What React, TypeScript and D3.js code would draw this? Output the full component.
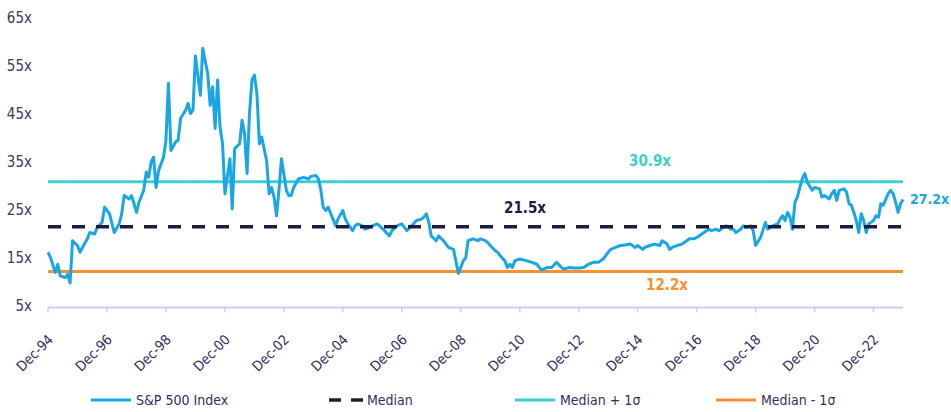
import * as d3 from "d3"
import { useRef, useEffect } from "react"

// S&P 500 forward P/E
const months = [
  "1994-12", "1995-01", "1995-03", "1995-04", "1995-05", "1995-07", "1995-08", "1995-09", "1995-10", "1995-12",
  "1996-01", "1996-02", "1996-04", "1996-05", "1996-07", "1996-08", "1996-10", "1996-11", "1997-01", "1997-03",
  "1997-05", "1997-06", "1997-07", "1997-09", "1997-10", "1997-11", "1997-12", "1998-01", "1998-03", "1998-04",
  "1998-05", "1998-06", "1998-07", "1998-08", "1998-09", "1998-11", "1998-12", "1999-01", "1999-02", "1999-04",
  "1999-05", "1999-06", "1999-08", "1999-09", "1999-10", "1999-11", "1999-12", "2000-02", "2000-03", "2000-05",
  "2000-06", "2000-07", "2000-08", "2000-09", "2000-10", "2000-11", "2000-12", "2001-02", "2001-03", "2001-04",
  "2001-06", "2001-07", "2001-08", "2001-09", "2001-10", "2001-11", "2001-12", "2002-01", "2002-02", "2002-03",
  "2002-05", "2002-06", "2002-07", "2002-08", "2002-09", "2002-10", "2002-11", "2003-01", "2003-02", "2003-03",
  "2003-04", "2003-06", "2003-08", "2003-10", "2003-11", "2004-01", "2004-02", "2004-03", "2004-04", "2004-05",
  "2004-06", "2004-08", "2004-09", "2004-10", "2004-12", "2005-01", "2005-02", "2005-04", "2005-05", "2005-06",
  "2005-08", "2005-09", "2005-11", "2005-12", "2006-02", "2006-03", "2006-05", "2006-07", "2006-08", "2006-10",
  "2006-12", "2007-02", "2007-04", "2007-06", "2007-08", "2007-09", "2007-10", "2007-11", "2007-12", "2008-02",
  "2008-03", "2008-05", "2008-06", "2008-07", "2008-09", "2008-10", "2008-11", "2009-01", "2009-02", "2009-03",
  "2009-05", "2009-07", "2009-08", "2009-10", "2009-11", "2009-12", "2010-02", "2010-03", "2010-04", "2010-06",
  "2010-07", "2010-08", "2010-09", "2010-10", "2010-12", "2011-03", "2011-05", "2011-07", "2011-08", "2011-09",
  "2011-11", "2012-01", "2012-03", "2012-05", "2012-06", "2012-08", "2012-10", "2012-12", "2013-02", "2013-04",
  "2013-06", "2013-08", "2013-10", "2013-12", "2014-01", "2014-03", "2014-05", "2014-07", "2014-09", "2014-11",
  "2014-12", "2015-02", "2015-03", "2015-05", "2015-07", "2015-09", "2015-10", "2015-12", "2016-01", "2016-02",
  "2016-04", "2016-06", "2016-08", "2016-09", "2016-11", "2017-01", "2017-02", "2017-03", "2017-05", "2017-06",
  "2017-08", "2017-09", "2017-11", "2017-12", "2018-02", "2018-03", "2018-04", "2018-06", "2018-07", "2018-08",
  "2018-10", "2018-11", "2018-12", "2019-02", "2019-03", "2019-04", "2019-05", "2019-07", "2019-09", "2019-10",
  "2019-11", "2019-12", "2020-01", "2020-02", "2020-03", "2020-04", "2020-05", "2020-06", "2020-07", "2020-08",
  "2020-09", "2020-11", "2020-12", "2021-02", "2021-03", "2021-04", "2021-06", "2021-07", "2021-08", "2021-09",
  "2021-10", "2021-12", "2022-01", "2022-02", "2022-03", "2022-04", "2022-05", "2022-06", "2022-07", "2022-08",
  "2022-09", "2022-10", "2022-12", "2023-01", "2023-02", "2023-03", "2023-04", "2023-06", "2023-07", "2023-08",
  "2023-09", "2023-10", "2023-11", "2023-12",
]

const peValues = [
  16.2, 15.1, 12.0, 13.7, 11.3, 10.9, 11.6, 9.8, 18.6, 17.6,
  16.2, 17.2, 19.0, 20.3, 20.0, 21.4, 22.4, 25.6, 24.2, 20.3,
  22.1, 24.2, 28.0, 27.3, 28.0, 26.3, 24.5, 26.6, 29.1, 32.9,
  31.8, 35.0, 36.0, 29.7, 33.2, 36.0, 39.5, 51.4, 37.4, 39.2,
  39.5, 44.1, 45.8, 47.2, 45.1, 45.8, 57.1, 48.9, 58.7, 53.5,
  46.8, 50.7, 42.0, 52.1, 42.3, 38.8, 28.4, 35.7, 25.2, 37.8,
  38.8, 43.7, 40.9, 32.6, 45.1, 52.1, 53.1, 49.3, 38.8, 40.2,
  35.3, 28.4, 29.7, 27.7, 23.8, 29.1, 35.7, 29.1, 28.0, 28.0,
  29.7, 31.5, 31.8, 31.5, 32.0, 32.2, 31.5, 29.4, 25.6, 24.9,
  25.6, 23.1, 21.7, 23.1, 24.9, 23.1, 22.1, 20.7, 21.7, 22.1,
  21.7, 21.0, 21.4, 21.7, 22.1, 21.7, 20.7, 19.6, 20.7, 21.7,
  22.1, 20.7, 21.7, 22.8, 23.1, 23.5, 24.2, 22.4, 19.6, 18.6,
  19.6, 18.6, 17.9, 17.2, 16.8, 14.4, 11.8, 14.4, 15.1, 18.6,
  19.0, 18.6, 19.0, 18.6, 18.2, 17.6, 16.5, 16.2, 15.5, 14.4,
  13.0, 13.7, 13.0, 14.4, 14.8, 14.4, 14.1, 13.7, 13.0, 12.5,
  13.0, 13.0, 14.1, 13.0, 12.7, 13.0, 12.9, 12.9, 13.0, 13.7,
  14.1, 14.1, 14.8, 16.2, 16.8, 17.2, 17.6, 17.7, 17.9, 17.2,
  17.6, 16.8, 17.2, 17.6, 17.9, 17.6, 18.6, 17.9, 16.8, 17.2,
  17.6, 17.9, 18.6, 19.0, 19.0, 19.6, 20.0, 20.3, 21.0, 20.7,
  21.0, 20.7, 21.4, 21.7, 21.0, 21.0, 20.3, 21.0, 21.7, 21.4,
  21.7, 20.7, 17.6, 19.3, 20.7, 22.4, 21.0, 21.7, 22.1, 23.1,
  23.8, 22.8, 24.5, 23.5, 21.0, 26.6, 27.7, 29.7, 31.5, 32.6,
  30.8, 29.1, 29.7, 29.4, 27.7, 28.0, 27.3, 28.4, 29.1, 27.0,
  29.1, 29.4, 28.7, 26.3, 26.0, 24.5, 22.8, 20.3, 24.2, 22.8,
  20.3, 22.1, 22.8, 23.8, 23.5, 26.3, 26.0, 28.4, 29.1, 28.4,
  26.6, 24.5, 26.3, 27.2,
]

const median = 21.5
const plusOneSd = 30.9
const minusOneSd = 12.2
const latest = 27.2

const yTicks = [5, 15, 25, 35, 45, 55, 65]
const xTickLabels = [
  "Dec-94", "Dec-96", "Dec-98", "Dec-00", "Dec-02", "Dec-04", "Dec-06", "Dec-08",
  "Dec-10", "Dec-12", "Dec-14", "Dec-16", "Dec-18", "Dec-20", "Dec-22",
]

const legendItems = ["S&P 500 Index", "Median", "Median + 1σ", "Median - 1σ"]

const BLUE = "#1aa6e2"
const CYAN = "#3dcfcf"
const ORANGE = "#f7902e"
const NAVY = "#1c1b42"
const AXIS = "#d0ccf8"
const TEXT = "#2f2f5e"
const FONT = "'DejaVu Sans Condensed', 'Liberation Sans Narrow', 'DejaVu Sans', sans-serif"

export default function App() {
  const svgRef = useRef<SVGSVGElement>(null)
  const width = 951
  const height = 412
  const left = 48
  const right = 903
  const top = 18
  const bottom = 306

  useEffect(() => {
    const parseMonth = d3.timeParse("%Y-%m")
    const parseTick = d3.timeParse("%b-%y")
    const data = months.map((m, i) => ({ date: parseMonth(m)!, value: peValues[i] }))

    const x = d3
      .scaleTime()
      .domain([parseMonth("1994-12")!, parseMonth("2023-12")!])
      .range([left, right])
    const y = d3.scaleLinear().domain([5, 65]).range([bottom, top])

    const svg = d3.select(svgRef.current)
    svg.selectAll("*").remove()
    svg.attr("width", width).attr("height", height).style("font-family", FONT)

    // y labels
    svg
      .append("g")
      .selectAll("text")
      .data(yTicks)
      .join("text")
      .attr("x", 32)
      .attr("y", (d) => y(d))
      .attr("dy", "0.35em")
      .attr("text-anchor", "end")
      .attr("font-size", 15)
      .attr("fill", "#3a3a58")
      .text((d) => `${d}x`)

    // x axis line and ticks
    const axisY = bottom + 1.5
    svg
      .append("line")
      .attr("x1", left)
      .attr("x2", right)
      .attr("y1", axisY)
      .attr("y2", axisY)
      .attr("stroke", AXIS)
      .attr("stroke-width", 2)

    const tickDates = xTickLabels.map((t) => parseTick(t)!)
    svg
      .append("g")
      .selectAll("line")
      .data(tickDates)
      .join("line")
      .attr("x1", (d) => x(d))
      .attr("x2", (d) => x(d))
      .attr("y1", axisY)
      .attr("y2", axisY + 5)
      .attr("stroke", AXIS)
      .attr("stroke-width", 1.5)

    svg
      .append("g")
      .selectAll("text")
      .data(xTickLabels)
      .join("text")
      .attr("transform", (d) => `translate(${x(parseTick(d)!) + 6},${axisY + 33}) rotate(-45)`)
      .attr("text-anchor", "end")
      .attr("font-size", 14)
      .attr("fill", TEXT)
      .text((d) => d)

    // reference lines
    const refLines = [
      { v: plusOneSd, color: CYAN },
      { v: minusOneSd, color: ORANGE },
    ]
    refLines.forEach((r) => {
      svg
        .append("line")
        .attr("x1", left)
        .attr("x2", right)
        .attr("y1", y(r.v))
        .attr("y2", y(r.v))
        .attr("stroke", r.color)
        .attr("stroke-width", 3)
    })

    // index line
    const line = d3
      .line<{ date: Date; value: number }>()
      .x((d) => x(d.date))
      .y((d) => y(d.value))

    svg
      .append("path")
      .datum(data)
      .attr("fill", "none")
      .attr("stroke", BLUE)
      .attr("stroke-width", 3)
      .attr("stroke-linejoin", "round")
      .attr("d", line)

    // median dashed line on top
    svg
      .append("line")
      .attr("x1", left)
      .attr("x2", right)
      .attr("y1", y(median))
      .attr("y2", y(median))
      .attr("stroke", NAVY)
      .attr("stroke-width", 3.5)
      .attr("stroke-dasharray", "13 11")

    // value labels
    const labels = [
      { text: `${plusOneSd}x`, color: CYAN, x: 650, y: y(plusOneSd) - 16, anchor: "middle", size: 15 },
      { text: `${median}x`, color: NAVY, x: 525, y: y(median) - 14, anchor: "middle", size: 15 },
      { text: `${minusOneSd}x`, color: ORANGE, x: 667, y: y(minusOneSd) + 19, anchor: "middle", size: 15 },
      { text: `${latest}x`, color: BLUE, x: 910, y: y(latest) + 5, anchor: "start", size: 14 },
    ]
    svg
      .append("g")
      .selectAll("text")
      .data(labels)
      .join("text")
      .attr("x", (d) => d.x)
      .attr("y", (d) => d.y)
      .attr("text-anchor", (d) => d.anchor)
      .attr("font-size", (d) => d.size)
      .attr("font-weight", "bold")
      .attr("fill", (d) => d.color)
      .text((d) => d.text)

    // legend
    const legendY = 400
    const legendX = [91, 329, 515, 716]
    const legend = svg.append("g")
    legendItems.forEach((name, i) => {
      const lx = legendX[i]
      if (i === 1) {
        legend
          .append("line")
          .attr("x1", lx)
          .attr("x2", lx + 35)
          .attr("y1", legendY)
          .attr("y2", legendY)
          .attr("stroke", NAVY)
          .attr("stroke-width", 3.5)
          .attr("stroke-dasharray", "12 10")
      } else {
        legend
          .append("line")
          .attr("x1", lx)
          .attr("x2", lx + 40)
          .attr("y1", legendY)
          .attr("y2", legendY)
          .attr("stroke", [BLUE, NAVY, CYAN, ORANGE][i])
          .attr("stroke-width", 3)
      }
      legend
        .append("text")
        .attr("x", lx + (i === 1 ? 38 : 45))
        .attr("y", legendY)
        .attr("dy", "0.35em")
        .attr("font-size", 14)
        .attr("fill", TEXT)
        .text(name)
    })
  }, [])

  return (
    <svg
      ref={svgRef}
      style={{ position: "absolute", left: 0, top: 0, background: "#fff" }}
    ></svg>
  )
}
